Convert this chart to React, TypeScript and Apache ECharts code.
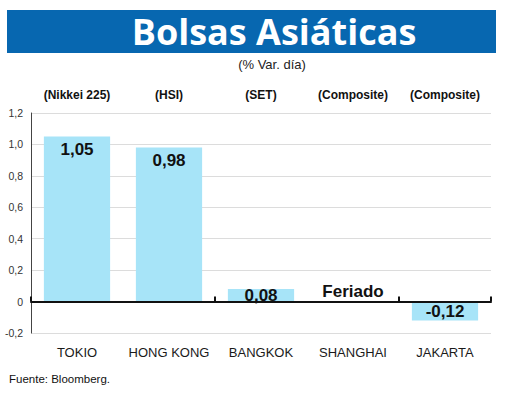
import React, { useEffect, useRef } from "react";
import * as echarts from "echarts";

const cities = ["TOKIO", "HONG KONG", "BANGKOK", "SHANGHAI", "JAKARTA"];
const indices = ["(Nikkei 225)", "(HSI)", "(SET)", "(Composite)", "(Composite)"];
const values: (number | null)[] = [1.05, 0.98, 0.08, null, -0.12];
const valueLabels = ["1,05", "0,98", "0,08", "Feriado", "-0,12"];
const yTicks = { min: -0.2, max: 1.2, interval: 0.2 };

const TITLE = "Bolsas Asiáticas";
const SUBTITLE = "(% Var. día)";
const SOURCE = "Fuente: Bloomberg.";

const SANS = "'Liberation Sans', Arial, sans-serif";

export default function App() {
  const ref = useRef<HTMLDivElement>(null);
  useEffect(() => {
    if (!ref.current) return;
    const chart = echarts.init(ref.current, null, { renderer: "svg" });
    const data = values.map((v, i) => {
      if (v === null) {
        return {
          value: 0,
          label: {
            show: true,
            position: "top",
            distance: 2,
            formatter: valueLabels[i],
          },
        };
      }
      const big = Math.abs(v) > 0.3;
      return {
        value: v,
        label: {
          show: true,
          position: big ? "insideTop" : "inside",
          distance: big ? 4 : 0,
          formatter: valueLabels[i],
        },
      };
    });
    chart.setOption({
      animation: false,
      backgroundColor: "#ffffff",
      grid: { left: 31, right: 29, top: 113, bottom: 67, containLabel: false },
      graphic: [
        {
          type: "rect",
          shape: { x: 7, y: 10, width: 489, height: 43 },
          style: { fill: "#0767B0" },
        },
        {
          type: "text",
          x: 274,
          y: 31,
          style: {
            text: TITLE,
            fill: "#ffffff",
            font: "bold 36px 'Open Sans', Lato, sans-serif",
            textAlign: "center",
            textVerticalAlign: "middle",
          },
        },
        {
          type: "text",
          x: 272,
          y: 64,
          style: {
            text: SUBTITLE,
            fill: "#222222",
            font: "13px " + SANS,
            textAlign: "center",
            textVerticalAlign: "middle",
          },
        },
        {
          type: "text",
          x: 9,
          y: 379,
          style: {
            text: SOURCE,
            fill: "#111111",
            font: "11.5px " + SANS,
            textAlign: "left",
            textVerticalAlign: "middle",
          },
        },
      ],
      xAxis: [
        {
          type: "category",
          data: cities,
          position: "bottom",
          boundaryGap: true,
          axisLine: { show: true, onZero: true, lineStyle: { color: "#111111", width: 2 } },
          axisTick: { show: true, inside: true, length: 5, lineStyle: { color: "#111111", width: 2 } },
          axisLabel: { show: false },
          splitLine: { show: false },
          z: 10,
        },
        {
          type: "category",
          data: cities,
          position: "bottom",
          axisLine: { show: false, onZero: false },
          axisTick: { show: false },
          axisLabel: {
            show: true,
            interval: 0,
            margin: 13,
            color: "#1a1a1a",
            fontSize: 13,
            fontFamily: SANS,
          },
        },
        {
          type: "category",
          data: indices,
          position: "top",
          axisLine: { show: false, onZero: false },
          axisTick: { show: false },
          axisLabel: {
            show: true,
            interval: 0,
            margin: 12,
            color: "#111111",
            fontSize: 12,
            fontWeight: "bold",
            fontFamily: SANS,
          },
        },
      ],
      yAxis: {
        type: "value",
        min: yTicks.min,
        max: yTicks.max,
        interval: yTicks.interval,
        axisLine: { show: true, lineStyle: { color: "#444444", width: 1 } },
        axisTick: { show: false },
        axisLabel: {
          color: "#333333",
          fontSize: 10.5,
          fontFamily: SANS,
          margin: 8,
          formatter: (v: number) =>
            Math.abs(v) < 1e-9 ? "0" : v.toFixed(1).replace(".", ","),
        },
        splitLine: { show: true, lineStyle: { color: "#dcdcdc", width: 1 } },
      },
      series: [
        {
          type: "bar",
          xAxisIndex: 0,
          data,
          barWidth: "72%",
          itemStyle: { color: "#A7E4F8" },
          label: {
            color: "#111111",
            fontSize: 17,
            fontWeight: "bold",
            fontFamily: SANS,
          },
        },
      ],
    });
    return () => chart.dispose();
  }, []);
  return (
    <div
      ref={ref}
      style={{ position: "absolute", left: 0, top: 0, width: 520, height: 400 }}
    />
  );
}
